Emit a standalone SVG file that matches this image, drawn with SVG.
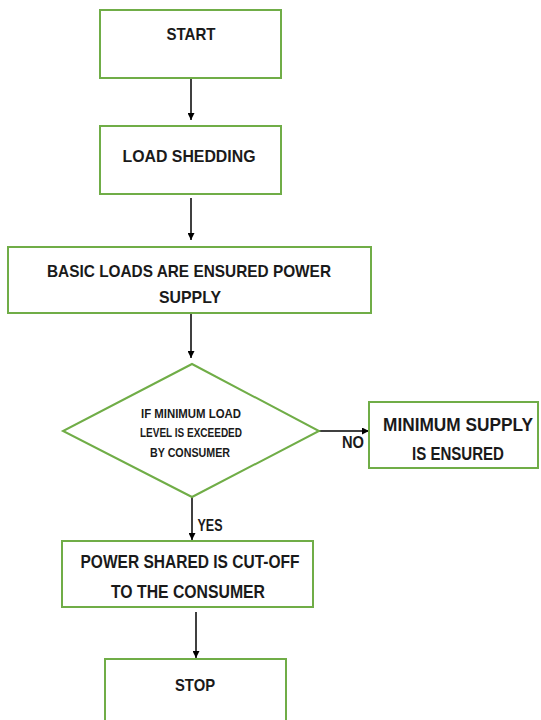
<svg xmlns="http://www.w3.org/2000/svg" width="541" height="720" viewBox="0 0 541 720">
<style>
.box{fill:#fff;stroke:#70ad47;stroke-width:2}
.t{font-family:"Liberation Sans",Arial,sans-serif;font-weight:bold;fill:#1a1a1a;text-anchor:middle}
.l{stroke:#000;stroke-width:1.5;fill:none}
</style>
<defs>
<marker id="ah" viewBox="0 0 10 10" refX="10" refY="5" markerWidth="7" markerHeight="7" orient="auto" markerUnits="userSpaceOnUse">
<path d="M0,0 L10,5 L0,10 z" fill="#000"/>
</marker>
</defs>
<rect width="541" height="720" fill="#fff"/>
<g id="connectors">
<line class="l" x1="191" y1="79" x2="191" y2="120" marker-end="url(#ah)"/>
<line class="l" x1="191" y1="198" x2="191" y2="240" marker-end="url(#ah)"/>
<line class="l" x1="191" y1="314" x2="191" y2="358" marker-end="url(#ah)"/>
<line class="l" x1="319" y1="431" x2="369" y2="431" marker-end="url(#ah)"/>
<line class="l" x1="192" y1="497" x2="192" y2="540" marker-end="url(#ah)"/>
<line class="l" x1="196" y1="612" x2="196" y2="658" marker-end="url(#ah)"/>
<text class="t" x="353" y="448" font-size="16" font-weight="normal" textLength="22" lengthAdjust="spacingAndGlyphs">NO</text>
<text class="t" x="210" y="531" font-size="16" textLength="25" lengthAdjust="spacingAndGlyphs">YES</text>
</g>
<g id="start">
<rect class="box" x="100" y="10" width="181" height="68"/>
<text class="t" x="191" y="40" font-size="17" textLength="49" lengthAdjust="spacingAndGlyphs">START</text>
</g>
<g id="load-shedding">
<rect class="box" x="100" y="126" width="181" height="68"/>
<text class="t" x="189" y="162" font-size="17" textLength="133" lengthAdjust="spacingAndGlyphs">LOAD SHEDDING</text>
</g>
<g id="basic-loads">
<rect class="box" x="8" y="247" width="363" height="66"/>
<text class="t" x="189" y="277" font-size="17" textLength="284" lengthAdjust="spacingAndGlyphs">BASIC LOADS ARE ENSURED POWER</text>
<text class="t" x="190" y="303" font-size="17" textLength="62" lengthAdjust="spacingAndGlyphs">SUPPLY</text>
</g>
<g id="decision">
<polygon class="box" points="192,364 319,431 192,497 63,431"/>
<text class="t" x="191" y="418" font-size="12.5" font-weight="normal" textLength="100" lengthAdjust="spacingAndGlyphs">IF MINIMUM LOAD</text>
<text class="t" x="191" y="437" font-size="12.5" font-weight="normal" textLength="102" lengthAdjust="spacingAndGlyphs">LEVEL IS EXCEEDED</text>
<text class="t" x="190" y="457" font-size="12.5" font-weight="normal" textLength="80" lengthAdjust="spacingAndGlyphs">BY CONSUMER</text>
</g>
<g id="minimum-supply">
<rect class="box" x="369" y="402" width="169" height="66"/>
<text class="t" x="458" y="431" font-size="18" textLength="150" lengthAdjust="spacingAndGlyphs">MINIMUM SUPPLY</text>
<text class="t" x="458" y="460" font-size="18" textLength="92" lengthAdjust="spacingAndGlyphs">IS ENSURED</text>
</g>
<g id="power-cutoff">
<rect class="box" x="62" y="541" width="251" height="66"/>
<text class="t" x="190" y="568" font-size="18" textLength="219" lengthAdjust="spacingAndGlyphs">POWER SHARED IS CUT-OFF</text>
<text class="t" x="188" y="598" font-size="18" textLength="154" lengthAdjust="spacingAndGlyphs">TO THE CONSUMER</text>
</g>
<g id="stop">
<rect class="box" x="105" y="659" width="181" height="70"/>
<text class="t" x="195" y="691" font-size="17" textLength="40" lengthAdjust="spacingAndGlyphs">STOP</text>
</g>
</svg>
